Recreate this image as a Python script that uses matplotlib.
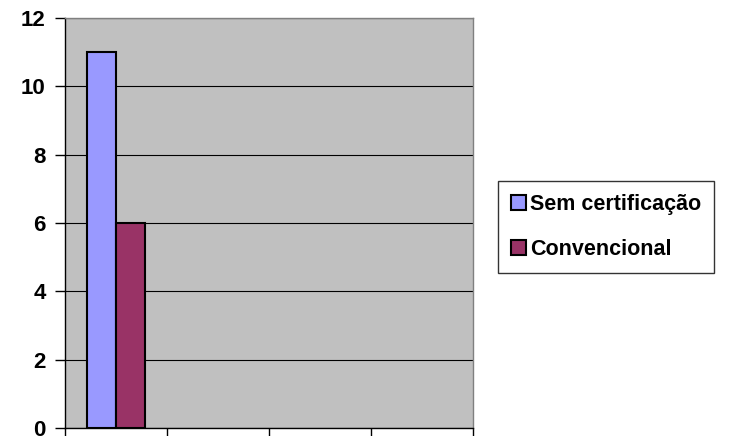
import matplotlib
matplotlib.use("Agg")
import matplotlib.pyplot as plt
import numpy as np

categories = ["", "", "", ""]
series_names = ["Sem certificação", "Convencional"]
sem_cert = [11, np.nan, np.nan, np.nan]
convencional = [6, np.nan, np.nan, np.nan]
yticks = [0, 2, 4, 6, 8, 10, 12]
colors = ["#9999FF", "#993366"]

plt.rcParams['font.family'] = ['Liberation Sans', 'DejaVu Sans']

fig = plt.figure(figsize=(7.3, 4.36), dpi=100)
ax = fig.add_axes([65/730, 8/436, 408/730, 410/436])
ax.set_facecolor("#C0C0C0")

x = np.arange(len(categories))
w = 0.284
ax.bar(x - w/2, sem_cert, width=w, color=colors[0], edgecolor="black", linewidth=1.5, label=series_names[0], zorder=3)
ax.bar(x + w/2, convencional, width=w, color=colors[1], edgecolor="black", linewidth=1.5, label=series_names[1], zorder=3)

ax.set_xlim(-0.5, len(categories) - 0.5)
ax.set_ylim(0, 12)
ax.set_yticks(yticks)
ax.set_yticklabels([str(v) for v in yticks], fontsize=16, fontweight="bold")
ax.set_xticks(np.arange(len(categories) + 1) - 0.5)
ax.set_xticklabels([])
ax.tick_params(axis="both", direction="out", length=7, width=1, color="black")
ax.tick_params(axis="y", pad=7)
ax.yaxis.grid(True, color="black", linewidth=0.8, zorder=1)
ax.set_axisbelow(True)
for s in ["top", "right"]:
    ax.spines[s].set_color("#808080")
    ax.spines[s].set_linewidth(1)
for s in ["left", "bottom"]:
    ax.spines[s].set_color("black")
    ax.spines[s].set_linewidth(1)

leg = fig.legend(loc="center left", bbox_to_anchor=(498/730, 1 - 227/436),
                 frameon=True, fancybox=False, edgecolor="black",
                 prop={"size": 15.5, "weight": "bold"}, handlelength=0.7, handleheight=0.7,
                 handletextpad=0.2, labelspacing=1.15, borderpad=0.6, borderaxespad=0)
leg.get_frame().set_linewidth(1)

fig.savefig("out.png", dpi=100)
